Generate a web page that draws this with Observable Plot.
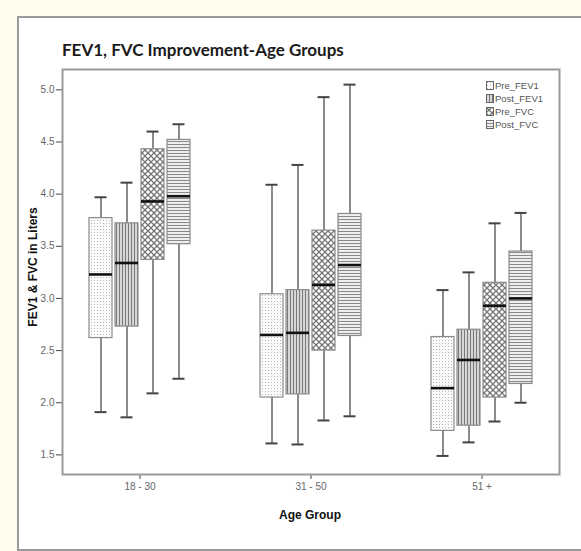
<!DOCTYPE html>
<html>
<head>
<meta charset="utf-8">
<script src="https://cdn.jsdelivr.net/npm/d3@7"></script>
<script src="https://cdn.jsdelivr.net/npm/@observablehq/plot@0.6"></script>
<style>
  html, body { margin: 0; padding: 0; }
  body { width: 581px; height: 551px; background: #fffcee; position: relative; overflow: hidden; font-family: "Liberation Sans", Arial, sans-serif; }
  #outer { position: absolute; left: 17px; top: 16px; width: 600px; height: 531px; border: 2px solid #9a9a9a; background: #fff; }
  #title { position: absolute; left: 62px; top: 39px; font-family: Lato, "Open Sans", sans-serif; font-weight: 700; font-size: 17px; color: #1a1a1a; white-space: nowrap; }
  #chart { position: absolute; left: 0; top: 60px; }
  #chart svg { background: transparent !important; }
  .ylab { position: absolute; left: 33px; top: 267px; transform: translate(-50%, -50%) rotate(-90deg); font-weight: bold; font-size: 12px; color: #111; white-space: nowrap; }
  .xlab { position: absolute; left: 310px; top: 515px; transform: translate(-50%, -50%); font-weight: bold; font-size: 12px; color: #111; white-space: nowrap; }
  #legend { position: absolute; left: 486px; top: 79px; font-size: 9.5px; color: #555; line-height: 13px; }
  #legend div { display: flex; align-items: center; height: 13px; }
  #legend svg { margin-right: 1px; }
  g[aria-label="x-axis tick label"] text, g[aria-label="y-axis tick label"] text { fill: #666; }
</style>
</head>
<body>
<svg width="0" height="0" style="position:absolute">
  <defs>
    <pattern id="pDots" width="3" height="3" patternUnits="userSpaceOnUse">
      <rect width="3" height="3" fill="#fbfbfb"/>
      <rect x="1" y="1" width="1" height="1" fill="#b5b5b5"/>
    </pattern>
    <pattern id="pVert" width="3" height="3" patternUnits="userSpaceOnUse">
      <rect width="3" height="3" fill="#d6d6d6"/>
      <rect x="0" y="0" width="1" height="3" fill="#7a7a7a"/>
    </pattern>
    <pattern id="pCross" width="6" height="6" patternUnits="userSpaceOnUse">
      <rect width="6" height="6" fill="#fff"/>
      <path d="M0,0 L6,6 M6,0 L0,6" stroke="#777" stroke-width="1.3"/>
      <rect x="2.5" y="2.5" width="1" height="1" fill="#666"/>
    </pattern>
    <pattern id="pHoriz" width="3" height="3" patternUnits="userSpaceOnUse">
      <rect width="3" height="3" fill="#eeeeee"/>
      <rect x="0" y="0" width="3" height="1" fill="#8a8a8a"/>
    </pattern>
  </defs>
</svg>
<div id="outer"></div>
<div id="title">FEV1, FVC Improvement-Age Groups</div>
<div id="chart"></div>
<div class="ylab">FEV1 &amp; FVC in Liters</div>
<div class="xlab">Age Group</div>
<div id="legend"></div>
<script>
// ---- data ----
const groups = ["18 - 30", "31 - 50", "51 +"];
const seriesNames = ["Pre_FEV1", "Post_FEV1", "Pre_FVC", "Post_FVC"];
// each entry: [lower whisker, Q1, median, Q3, upper whisker] per age group
const preFEV1  = [[1.91, 2.62, 3.23, 3.77, 3.97], [1.61, 2.05, 2.65, 3.04, 4.09], [1.49, 1.73, 2.14, 2.63, 3.08]];
const postFEV1 = [[1.86, 2.73, 3.34, 3.72, 4.11], [1.60, 2.08, 2.67, 3.08, 4.28], [1.62, 1.78, 2.41, 2.70, 3.25]];
const preFVC   = [[2.09, 3.37, 3.93, 4.43, 4.60], [1.83, 2.50, 3.13, 3.65, 4.93], [1.82, 2.05, 2.93, 3.15, 3.72]];
const postFVC  = [[2.23, 3.52, 3.98, 4.52, 4.67], [1.87, 2.64, 3.32, 3.81, 5.05], [2.00, 2.18, 3.00, 3.45, 3.82]];
const yTicks = [1.5, 2.0, 2.5, 3.0, 3.5, 4.0, 4.5, 5.0];

const seriesValues = [preFEV1, postFEV1, preFVC, postFVC];
const patterns = ["url(#pDots)", "url(#pVert)", "url(#pCross)", "url(#pHoriz)"];

const marks = [];
seriesValues.forEach((vals, i) => {
  const rows = vals.map((v, g) => ({group: groups[g], series: seriesNames[i], lo: v[0], q1: v[1], med: v[2], q3: v[3], hi: v[4]}));
  const dx = (i - 1.5) * 26;
  marks.push(Plot.ruleX(rows, {x: "group", y1: "lo", y2: "q1", dx, stroke: "#6e6e6e", strokeWidth: 1.6}));
  marks.push(Plot.ruleX(rows, {x: "group", y1: "q3", y2: "hi", dx, stroke: "#6e6e6e", strokeWidth: 1.6}));
  marks.push(Plot.tickY(rows, {x: "group", y: "lo", dx, insetLeft: 5.5, insetRight: 5.5, stroke: "#444", strokeWidth: 2}));
  marks.push(Plot.tickY(rows, {x: "group", y: "hi", dx, insetLeft: 5.5, insetRight: 5.5, stroke: "#444", strokeWidth: 2}));
  marks.push(Plot.barY(rows, {x: "group", y1: "q1", y2: "q3", dx, fill: patterns[i], stroke: "#8a8a8a", strokeWidth: 1.2}));
  marks.push(Plot.tickY(rows, {x: "group", y: "med", dx, stroke: "#111", strokeWidth: 2.6}));
});
marks.push(Plot.frame({stroke: "#9a9a9a", strokeWidth: 2}));

const chart = Plot.plot({
  width: 581,
  height: 475,
  marginLeft: 62,
  marginRight: 22,
  marginTop: 9,
  marginBottom: 61,
  style: {fontFamily: "'Liberation Sans', Arial, sans-serif", fontSize: "10px", color: "#444", background: "transparent"},
  x: {type: "band", domain: groups, paddingInner: 0.868, paddingOuter: 0.3845, align: 0.5, label: null, tickSize: 5, tickPadding: 3},
  y: {domain: [1.312, 5.195], ticks: yTicks, tickFormat: d3.format(".1f"), label: null, tickSize: 6, tickPadding: 2},
  marks
});
document.getElementById("chart").appendChild(chart);

// legend
const legend = document.getElementById("legend");
seriesNames.forEach((name, i) => {
  const row = document.createElement("div");
  row.innerHTML = `<svg width="8" height="9"><rect x="0.5" y="0.5" width="7" height="8" fill="${patterns[i]}" stroke="#666" stroke-width="1"/></svg><span>${name}</span>`;
  legend.appendChild(row);
});
</script>
</body>
</html>
